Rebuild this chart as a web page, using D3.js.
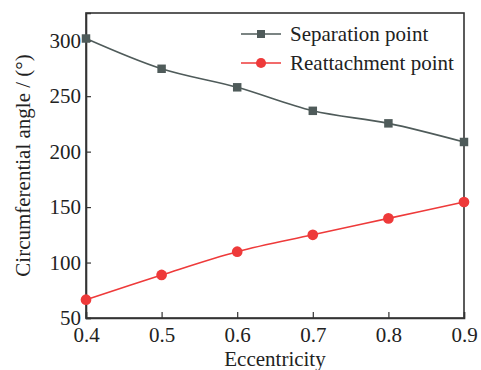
<!DOCTYPE html>
<html>
<head>
<meta charset="utf-8">
<script src="https://cdn.jsdelivr.net/npm/d3@7"></script>
<style>
  body { margin: 0; background: #fff; }
</style>
</head>
<body>
<script>
const eccentricity = [0.4, 0.5, 0.6, 0.7, 0.8, 0.9];
const separation = [302, 274.7, 258, 236.8, 225.5, 208.7];
const reattachment = [66.5, 88.8, 109.8, 125, 139.8, 154.6];
const xTicks = [0.4, 0.5, 0.6, 0.7, 0.8, 0.9];
const yTicks = [50, 100, 150, 200, 250, 300];

const width = 481, height = 370;
const margin = {top: 13, right: 17, bottom: 52, left: 86};
const serif = '"Liberation Serif"';

const svg = d3.select('body').append('svg')
    .attr('width', width)
    .attr('height', height)
    .style('font-family', serif);

const x = d3.scaleLinear([0.4, 0.9], [margin.left, width - margin.right]);
const y = d3.scaleLinear([50, 325], [height - margin.bottom, margin.top]);

// frame
svg.append('rect')
    .attr('x', margin.left)
    .attr('y', margin.top)
    .attr('width', width - margin.left - margin.right)
    .attr('height', height - margin.top - margin.bottom)
    .attr('fill', 'none')
    .attr('stroke', '#333')
    .attr('stroke-width', 1.6);

const xAxis = svg.append('g')
    .attr('transform', `translate(0,${height - margin.bottom})`)
    .call(d3.axisBottom(x).tickValues(xTicks).tickSize(-6).tickPadding(9).tickFormat(d3.format('.1f')));

const yAxis = svg.append('g')
    .attr('transform', `translate(${margin.left},0)`)
    .call(d3.axisLeft(y).tickValues(yTicks).tickSize(-5).tickPadding(5));

[xAxis, yAxis].forEach(g => {
  g.attr('font-family', null).attr('font-size', null);
  g.select('.domain').attr('stroke', '#333').attr('stroke-width', 1.6);
  g.selectAll('.tick line').attr('stroke', '#333').attr('stroke-width', 1.2);
  g.selectAll('.tick text')
      .style('font-family', serif)
      .style('font-size', '21px')
      .attr('fill', '#222');
});

svg.append('text')
    .attr('x', (margin.left + width - margin.right) / 2)
    .attr('y', 366)
    .attr('text-anchor', 'middle')
    .style('font-size', '21px')
    .attr('fill', '#222')
    .text('Eccentricity');

svg.append('text')
    .attr('transform', `translate(30,${(margin.top + height - margin.bottom) / 2}) rotate(-90)`)
    .attr('text-anchor', 'middle')
    .style('font-size', '21px')
    .attr('fill', '#222')
    .text('Circumferential angle / (°)');

const series = [
  {name: 'Separation point', values: separation, color: '#4f5b5a', shape: 'square'},
  {name: 'Reattachment point', values: reattachment, color: '#ee3a3a', shape: 'circle'}
];

const line = d3.line()
    .x((d, i) => x(eccentricity[i]))
    .y(d => y(d))
    .curve(d3.curveCatmullRom);

const plot = svg.append('g');

series.forEach(s => {
  plot.append('path')
      .datum(s.values)
      .attr('d', line)
      .attr('fill', 'none')
      .attr('stroke', s.color)
      .attr('stroke-width', 1.6);

  const sym = d3.symbol().type(s.shape == 'square' ? d3.symbolSquare : d3.symbolCircle).size(s.shape == 'square' ? 72 : 90);
  plot.selectAll(null)
      .data(s.values)
      .join('path')
      .attr('transform', (d, i) => `translate(${x(eccentricity[i])},${y(d)})`)
      .attr('d', sym)
      .attr('fill', s.color);
});

// legend
const legend = svg.append('g');
series.forEach((s, i) => {
  const ly = 34 + i * 29;
  legend.append('line')
      .attr('x1', 241).attr('x2', 281)
      .attr('y1', ly).attr('y2', ly)
      .attr('stroke', s.color).attr('stroke-width', 1.6);
  legend.append('path')
      .attr('transform', `translate(261,${ly})`)
      .attr('d', d3.symbol().type(s.shape == 'square' ? d3.symbolSquare : d3.symbolCircle).size(s.shape == 'square' ? 64 : 80))
      .attr('fill', s.color);
  legend.append('text')
      .attr('x', 290)
      .attr('y', ly)
      .attr('dy', '0.35em')
      .style('font-size', '21px')
      .attr('fill', '#222')
      .text(s.name);
});
</script>
</body>
</html>
